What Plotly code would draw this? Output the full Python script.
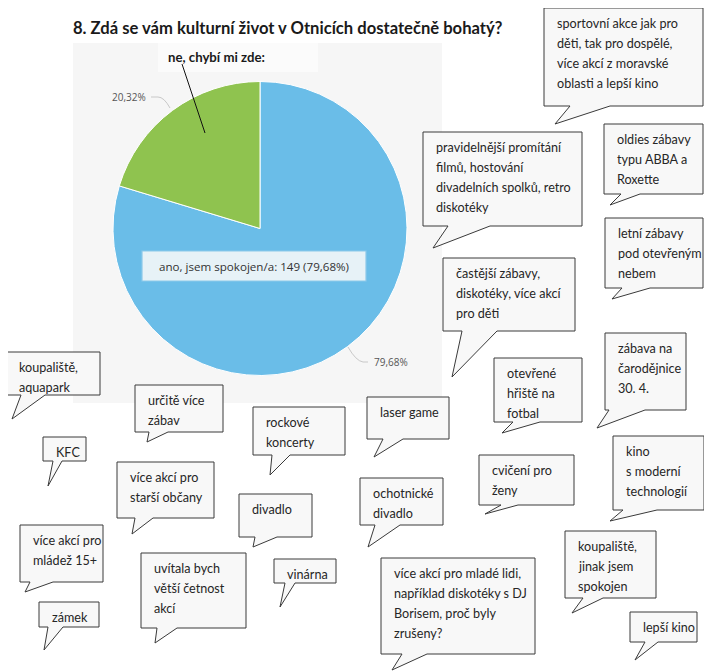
import plotly.graph_objects as go

# ---------------- data ----------------
title_text = "8. Zdá se vám kulturní život v Otnicích dostatečně bohatý?"
pie_labels = ["ano, jsem spokojen/a", "ne, chybí mi zde:"]
pie_values = [149, 38]
pie_pct_labels = ["79,68%", "20,32%"]
tooltip_text = "ano, jsem spokojen/a: 149 (79,68%)"

comments = [
    "sportovní akce jak pro\nděti, tak pro dospělé,\nvíce akcí z moravské\noblasti a lepší kino",
    "pravidelnější promítání\nfilmů, hostování\ndivadelních spolků, retro\ndiskotéky",
    "oldies zábavy\ntypu ABBA a\nRoxette",
    "letní zábavy\npod otevřeným\nnebem",
    "častější zábavy,\ndiskotéky, více akcí\npro děti",
    "zábava na\nčarodějnice\n30. 4.",
    "otevřené\nhřiště na\nfotbal",
    "laser game",
    "cvičení pro\nženy",
    "kino\ns moderní\ntechnologií",
    "ochotnické\ndivadlo",
    "koupaliště,\njinak jsem\nspokojen",
    "více akcí pro mladé lidi,\nnapříklad diskotéky s DJ\nBorisem, proč byly\nzrušeny?",
    "lepší kino",
    "koupaliště,\naquapark",
    "určitě více\nzábav",
    "KFC",
    "rockové\nkoncerty",
    "více akcí pro\nstarší občany",
    "divadlo",
    "více akcí pro\nmládež 15+",
    "uvítala bych\nvětší četnost\nakcí",
    "vinárna",
    "zámek",
]

# ---------------- layout (pixel geometry) ----------------
W, H = 712, 671
OFF = 8  # page body margin compensation
# box x0, y0, x1, y1, tail A x, tip x, tip y, tail B x
bubble_geom = [
    (544, 8, 703, 106, 570, 555, 124, 610),
    (423, 132, 582, 226, 448, 433, 248, 490),
    (604, 124, 703, 194, 621, 610, 205, 640),
    (605, 218, 703, 288, 622, 612, 299, 650),
    (443, 258, 575, 331, 462, 452, 377, 497),
    (605, 333, 686, 410, 609, 597, 428, 645),
    (494, 358, 582, 422, 513, 502, 433, 540),
    (367, 397, 449, 439, 383, 374, 457, 403),
    (479, 455, 574, 505, 501, 485, 514, 518),
    (613, 436, 704, 510, 623, 610, 521, 657),
    (360, 478, 443, 525, 375, 368, 547, 400),
    (565, 531, 656, 598, 583, 572, 613, 603),
    (381, 558, 535, 654, 402, 392, 670, 427),
    (630, 612, 697, 642, 645, 635, 660, 658),
    (6, 352, 100, 395, 21, 12, 419, 45),
    (135, 385, 223, 432, 149, 147, 442, 168),
    (43, 437, 86, 461, 53, 48, 486, 62),
    (253, 407, 345, 455, 272, 270, 475, 290),
    (117, 462, 214, 518, 135, 132, 534, 153),
    (239, 494, 312, 537, 255, 253, 547, 277),
    (20, 525, 103, 582, 30, 25, 592, 53),
    (141, 553, 246, 628, 157, 155, 643, 177),
    (274, 559, 336, 583, 285, 280, 607, 295),
    (39, 602, 99, 627, 48, 44, 650, 63),
]

FONT = "Lato, 'Open Sans', sans-serif"
shapes = []
annotations = []

# chart panel background
shapes.append(dict(type="rect", xref="x", yref="y", x0=73, y0=43, x1=442, y1=403,
                   fillcolor="#f6f6f6", line=dict(width=0), layer="below"))
# label box for "ne"
shapes.append(dict(type="rect", xref="x", yref="y", x0=158, y0=43, x1=318, y1=72,
                   fillcolor="#fbfbfb", line=dict(width=0), layer="below"))

# faint watermarks (kept clear of texts)
for (wx, wy) in [(125, 330), (125, 205)]:
    annotations.append(dict(x=wx, y=wy, xref="x", yref="y", text="<i>✓survio</i>", showarrow=False,
                            font=dict(family="DejaVu Sans", size=26, color="rgba(0,0,0,0.022)")))

# pie label connectors and labels
shapes.append(dict(type="path", xref="x", yref="y", path="M 151 97 L 158 97 Q 164 97 170 108",
                   line=dict(color="#c8c8c8", width=1), layer="above"))
shapes.append(dict(type="path", xref="x", yref="y", path="M 348 347 Q 356 361 363 362 L 368 362",
                   line=dict(color="#c8c8c8", width=1), layer="above"))
annotations.append(dict(x=148, y=97, xref="x", yref="y", text=pie_pct_labels[1], showarrow=False,
                        xanchor="right", yanchor="middle",
                        font=dict(family="Open Sans", size=10, color="#555")))
annotations.append(dict(x=372, y=362, xref="x", yref="y", text=pie_pct_labels[0], showarrow=False,
                        xanchor="left", yanchor="middle",
                        font=dict(family="Open Sans", size=10, color="#555")))

# "ne" label with pointer line
annotations.append(dict(x=216, y=57, xref="x", yref="y", text="<b>" + pie_labels[1] + "</b>",
                        showarrow=False, font=dict(family=FONT, size=13.2, color="#1a1a1a")))
shapes.append(dict(type="line", xref="x", yref="y", x0=182, y0=64, x1=205, y1=133,
                   line=dict(color="#111", width=1), layer="above"))

# tooltip
shapes.append(dict(type="rect", xref="x", yref="y", x0=142, y0=251, x1=366, y1=281,
                   fillcolor="rgba(238,244,248,0.95)", line=dict(color="#8cc9ea", width=1.2), layer="above"))
annotations.append(dict(x=254, y=266, xref="x", yref="y", text=tooltip_text, showarrow=False,
                        font=dict(family="Open Sans", size=11.6, color="#333")))

# title
annotations.append(dict(x=71, y=28, xref="x", yref="y", text="<b>" + title_text + "</b>",
                        showarrow=False, xanchor="left", yanchor="middle",
                        font=dict(family=FONT, size=16.6, color="#1a1a1a")))

# speech bubbles
for txt, (x0, y0, x1, y1, ax, tx, ty, bx) in zip(comments, bubble_geom):
    path = (f"M {x0} {y0} L {x1} {y0} L {x1} {y1} L {bx} {y1} L {tx} {ty} "
            f"L {ax} {y1} L {x0} {y1} Z")
    shapes.append(dict(type="path", xref="x", yref="y", path=path,
                       fillcolor="#f8f8f8", line=dict(color="#3a3a3a", width=1), layer="above"))
    for i, line in enumerate(txt.split("\n")):
        annotations.append(dict(x=x0 + 10.5, y=y0 + 15 + i * 20, xref="x", yref="y",
                                text=line, showarrow=False, xanchor="left", yanchor="middle",
                                font=dict(family=FONT, size=12.6, color="#262626")))

# pie geometry
cx, cy, r = 260, 228.5, 147
FW, FH = W - OFF, H - OFF

fig = go.Figure()
fig.add_trace(go.Pie(
    labels=pie_labels, values=pie_values, sort=False, direction="clockwise", rotation=0,
    marker=dict(colors=["#6abde8", "#8fc34f"], line=dict(color="#ffffff", width=1)),
    textinfo="none", hoverinfo="skip", showlegend=False,
    domain=dict(x=[(cx - r - OFF) / FW, (cx + r - OFF) / FW],
                y=[1 - (cy + r - OFF) / FH, 1 - (cy - r - OFF) / FH]),
))
fig.add_trace(go.Scatter(x=[OFF, W], y=[OFF, H], mode="markers", marker=dict(opacity=0),
                         hoverinfo="skip", showlegend=False))

fig.update_layout(
    width=FW, height=FH, margin=dict(l=0, r=0, t=0, b=0),
    paper_bgcolor="white", plot_bgcolor="rgba(0,0,0,0)",
    xaxis=dict(range=[OFF, W], visible=False, fixedrange=True),
    yaxis=dict(range=[H, OFF], visible=False, fixedrange=True),
    shapes=shapes, annotations=annotations,
)
fig.write_html("out.html")
